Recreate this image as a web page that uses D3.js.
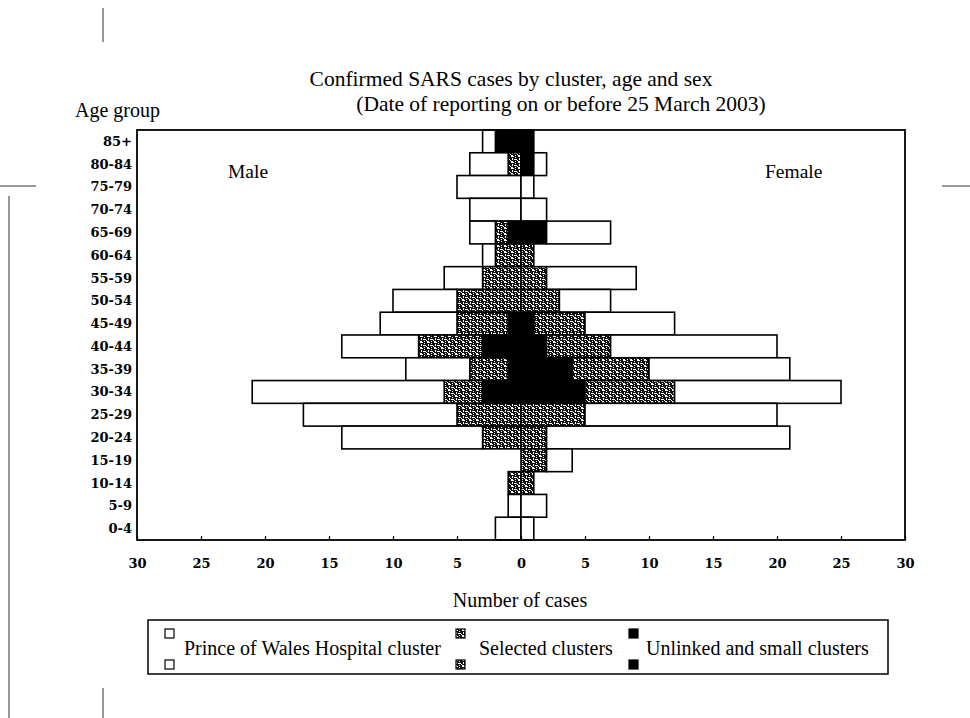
<!DOCTYPE html>
<html>
<head>
<meta charset="utf-8">
<script src="https://cdn.jsdelivr.net/npm/d3@7"></script>
<style>
  body { margin: 0; background: #fff; }
  svg { display: block; }
  .serif { font-family: "Liberation Serif", "DejaVu Serif", serif; fill: #000; }
  .lbl { font-family: "DejaVu Serif", serif; font-weight: bold; font-size: 13px; fill: #000; }
</style>
</head>
<body>
<div id="chart"></div>
<script>
// age groups, top to bottom
const ageGroups = ["85+", "80-84", "75-79", "70-74", "65-69", "60-64", "55-59", "50-54", "45-49",
  "40-44", "35-39", "30-34", "25-29", "20-24", "15-19", "10-14", "5-9", "0-4"];

// male counts (left side)
const malePow      = [1, 3, 5, 4, 2, 1, 3, 5, 6, 6, 5, 15, 12, 11, 0, 0, 1, 2];
const maleSelected = [0, 1, 0, 0, 1, 2, 3, 5, 4, 5, 3, 3, 5, 3, 0, 1, 0, 0];
const maleUnlinked = [2, 0, 0, 0, 1, 0, 0, 0, 1, 3, 1, 3, 0, 0, 0, 0, 0, 0];

// female counts (right side)
const femalePow      = [0, 1, 1, 2, 5, 0, 7, 4, 7, 13, 11, 13, 15, 19, 2, 0, 2, 1];
const femaleSelected = [0, 0, 0, 0, 0, 1, 2, 3, 4, 5, 6, 7, 5, 2, 2, 1, 0, 0];
const femaleUnlinked = [1, 1, 0, 0, 2, 0, 0, 0, 1, 2, 4, 5, 0, 0, 0, 0, 0, 0];

const xTicks = [-30, -25, -20, -15, -10, -5, 0, 5, 10, 15, 20, 25, 30];
const legendLabels = ["Prince of Wales Hospital cluster", "Selected clusters", "Unlinked and small clusters"];

const W = 970, H = 718;
const plot = { left: 137, right: 905, top: 130, bottom: 540 };

const svg = d3.select("#chart").append("svg")
  .attr("width", W)
  .attr("height", H);

// speckled fill used for the "selected clusters" segments
const defs = svg.append("defs");
const pat = defs.append("pattern")
  .attr("id", "speckle")
  .attr("patternUnits", "userSpaceOnUse")
  .attr("width", 7)
  .attr("height", 6);
pat.append("rect").attr("width", 7).attr("height", 6).attr("fill", "#111");
[[0, 0, 3, 1], [4, 1, 1, 1], [1, 2, 1, 2], [3, 3, 3, 1], [6, 4, 1, 1], [0, 5, 2, 1], [4, 5, 1, 1]]
  .forEach(r => pat.append("rect")
    .attr("x", r[0]).attr("y", r[1]).attr("width", r[2]).attr("height", r[3])
    .attr("fill", "#fff"));

const fills = { pow: "#fff", sel: "url(#speckle)", unl: "#000" };

const x = d3.scaleLinear().domain([-30, 30]).range([plot.left, plot.right]);
const y = d3.scaleBand().domain(ageGroups).range([plot.top, plot.bottom]).padding(0);

// build segments, stacked from the centre outwards: unlinked, selected, PoW
const segments = [];
ageGroups.forEach((age, i) => {
  let m = 0;
  [["unl", maleUnlinked[i]], ["sel", maleSelected[i]], ["pow", malePow[i]]].forEach(([k, v]) => {
    if (v > 0) segments.push({ age, key: k, x0: -(m + v), x1: -m });
    m += v;
  });
  let f = 0;
  [["unl", femaleUnlinked[i]], ["sel", femaleSelected[i]], ["pow", femalePow[i]]].forEach(([k, v]) => {
    if (v > 0) segments.push({ age, key: k, x0: f, x1: f + v });
    f += v;
  });
});

svg.append("g").selectAll("rect")
  .data(segments)
  .enter().append("rect")
  .attr("x", d => x(d.x0))
  .attr("y", d => y(d.age))
  .attr("width", d => x(d.x1) - x(d.x0))
  .attr("height", y.bandwidth())
  .attr("fill", d => fills[d.key])
  .attr("stroke", "#000")
  .attr("stroke-width", 1.6);

// plot frame
svg.append("rect")
  .attr("x", plot.left)
  .attr("y", plot.top)
  .attr("width", plot.right - plot.left)
  .attr("height", plot.bottom - plot.top)
  .attr("fill", "none")
  .attr("stroke", "#000")
  .attr("stroke-width", 1.8);

// x axis
const xAxis = svg.append("g")
  .attr("transform", `translate(0,${plot.bottom})`)
  .call(d3.axisBottom(x)
    .tickValues(xTicks)
    .tickFormat(d => Math.abs(d))
    .tickSizeInner(-4)
    .tickSizeOuter(0)
    .tickPadding(19));
xAxis.select(".domain").remove();
xAxis.selectAll("line").attr("stroke", "#000").attr("stroke-width", 1.2);
xAxis.selectAll("text").attr("class", "lbl").attr("font-size", null);
xAxis.attr("font-size", null).attr("font-family", null);

// y labels
svg.append("g").selectAll("text")
  .data(ageGroups)
  .enter().append("text")
  .attr("class", "lbl")
  .attr("x", plot.left - 5)
  .attr("y", d => y(d) + y.bandwidth() / 2)
  .attr("dy", "0.35em")
  .attr("text-anchor", "end")
  .text(d => d);

// titles
svg.append("text").attr("class", "serif")
  .attr("x", 511).attr("y", 86)
  .attr("text-anchor", "middle")
  .style("font-size", "21.5px")
  .text("Confirmed SARS cases by cluster, age and sex");
svg.append("text").attr("class", "serif")
  .attr("x", 561).attr("y", 111)
  .attr("text-anchor", "middle")
  .style("font-size", "21.5px")
  .text("(Date of reporting on or before 25 March 2003)");
svg.append("text").attr("class", "serif")
  .attr("x", 75).attr("y", 117)
  .style("font-size", "20px")
  .text("Age group");
svg.append("text").attr("class", "serif")
  .attr("x", 228).attr("y", 178)
  .style("font-size", "19.5px")
  .text("Male");
svg.append("text").attr("class", "serif")
  .attr("x", 765).attr("y", 178)
  .style("font-size", "19.5px")
  .text("Female");
svg.append("text").attr("class", "serif")
  .attr("x", 520).attr("y", 607)
  .attr("text-anchor", "middle")
  .style("font-size", "20px")
  .text("Number of cases");

// legend
const legend = svg.append("g");
legend.append("rect")
  .attr("x", 148).attr("y", 620)
  .attr("width", 740).attr("height", 54)
  .attr("fill", "#fff")
  .attr("stroke", "#000")
  .attr("stroke-width", 1.5);

const legendItems = [
  { key: "pow", sx: 165, tx: 184 },
  { key: "sel", sx: 456, tx: 479 },
  { key: "unl", sx: 629, tx: 646 }
];
legendItems.forEach((it, i) => {
  [629, 660].forEach(sy => {
    legend.append("rect")
      .attr("x", it.sx).attr("y", sy)
      .attr("width", 9).attr("height", 9)
      .attr("fill", fills[it.key])
      .attr("stroke", "#000")
      .attr("stroke-width", 1.2);
  });
  legend.append("text").attr("class", "serif")
    .attr("x", it.tx).attr("y", 655)
    .style("font-size", "20px")
    .text(legendLabels[i]);
});

// stray scan marks around the page
const marks = [[103, 8, 103, 42], [103, 688, 103, 718], [0, 186, 36, 186], [942, 186, 970, 186], [9, 196, 9, 718]];
svg.append("g").selectAll("line")
  .data(marks)
  .enter().append("line")
  .attr("x1", d => d[0]).attr("y1", d => d[1])
  .attr("x2", d => d[2]).attr("y2", d => d[3])
  .attr("stroke", "#333")
  .attr("stroke-width", 1);
</script>
</body>
</html>
